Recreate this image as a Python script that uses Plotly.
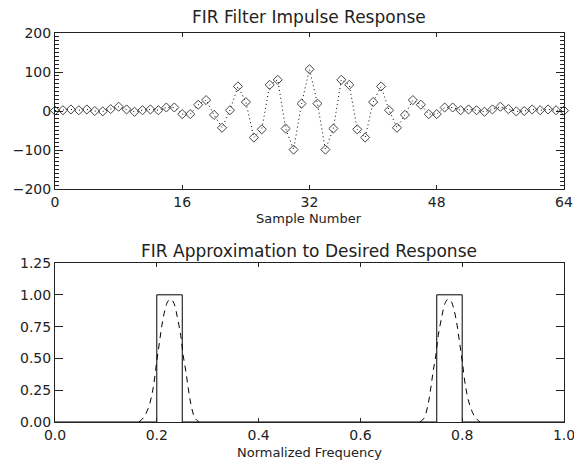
import plotly.graph_objects as go

# ---- Data: FIR impulse response (65 coefficients, samples 0..64) ----
sample_n = list(range(65))
coeff = [1, 2, 4, 2, 4, 0, -1, 5, 11, 4, -2, 2, 4, 2, 9, 9,
         -8, -8, 16, 28, -10, -43, 2, 63, 23, -68, -47, 67, 80, -45, -99, 19,
         107,
         19, -99, -45, 80, 67, -47, -68, 23, 63, 2, -43, -10, 28, 16, -8,
         -8, 9, 9, 2, 4, 2, -2, 4, 11, 5, -1, 0, 4, 2, 4, 2, 1]

# ---- Data: desired (ideal) band-pass response ----
desired_f = [0.0, 0.2, 0.2, 0.25, 0.25, 0.75, 0.75, 0.8, 0.8, 1.0]
desired_v = [0, 0, 1, 1, 0, 0, 1, 1, 0, 0]

# ---- Data: FIR approximation, two lobes ----
lobe1_f = [0.165, 0.175, 0.185, 0.193, 0.200, 0.205, 0.210, 0.216, 0.222,
           0.228, 0.234, 0.240, 0.247, 0.252, 0.257, 0.262, 0.267, 0.275, 0.283]
lobe1_v = [0.0, 0.04, 0.13, 0.27, 0.48, 0.62, 0.76, 0.88, 0.95,
           0.965, 0.93, 0.83, 0.68, 0.52, 0.40, 0.26, 0.14, 0.03, 0.0]
lobe2_f = [0.717, 0.725, 0.733, 0.738, 0.743, 0.748, 0.753, 0.760, 0.766,
           0.772, 0.778, 0.784, 0.790, 0.795, 0.800, 0.807, 0.815, 0.825, 0.835]
lobe2_v = [0.0, 0.03, 0.14, 0.26, 0.40, 0.52, 0.68, 0.83, 0.93,
           0.965, 0.95, 0.88, 0.76, 0.62, 0.48, 0.27, 0.13, 0.04, 0.0]

FONT = "DejaVu Sans"
INK = "#222222"

fig = go.Figure()

fig.add_trace(go.Scatter(
    x=sample_n, y=coeff, mode="lines+markers",
    line=dict(color="black", width=1, dash="1px,3px"),
    marker=dict(symbol="diamond-open", size=7, color="#444444",
                line=dict(width=1, color="#444444")),
    xaxis="x", yaxis="y", showlegend=False, cliponaxis=False))

fig.add_trace(go.Scatter(
    x=desired_f, y=desired_v, mode="lines",
    line=dict(color="black", width=1),
    xaxis="x2", yaxis="y2", showlegend=False))

for f, v in ((lobe1_f, lobe1_v), (lobe2_f, lobe2_v)):
    fig.add_trace(go.Scatter(
        x=f, y=v, mode="lines", line_shape="spline",
        line=dict(color="black", width=1, dash="6px,5px"),
        xaxis="x2", yaxis="y2", showlegend=False))

W, H = 574, 462
def px_x(p):
    return p / W
def px_y(p):
    return 1 - p / H

axis_common = dict(showline=True, linecolor=INK, linewidth=1, mirror="allticks",
                   ticks="inside", tickcolor=INK, showgrid=False, zeroline=False,
                   automargin=False, ticklabeloverflow="allow",
                   tickfont=dict(family=FONT, size=14, color=INK))

fig.update_layout(
    width=W, height=H,
    margin=dict(l=0, r=0, t=0, b=0, pad=0, autoexpand=False),
    paper_bgcolor="white", plot_bgcolor="white",
    xaxis=dict(domain=[px_x(55), px_x(564)], range=[0, 64], tickmode="array",
               tickvals=[0, 16, 32, 48, 64], ticklen=4, anchor="y", **axis_common),
    yaxis=dict(domain=[px_y(189), px_y(33)], range=[-200, 200], tickmode="array",
               tickvals=[-200, -100, 0, 100, 200], ticklen=8, anchor="x",
               minor=dict(dtick=10, ticklen=4, ticks="inside", tickcolor=INK),
               **axis_common),
    xaxis2=dict(domain=[px_x(55), px_x(564)], range=[0, 1], tickmode="array",
                tickvals=[0, 0.2, 0.4, 0.6, 0.8, 1.0],
                ticktext=["0.0", "0.2", "0.4", "0.6", "0.8", "1.0"],
                ticklen=4, anchor="y2", **axis_common),
    yaxis2=dict(domain=[px_y(422), px_y(263)], range=[0, 1.25], tickmode="array",
                tickvals=[0, 0.25, 0.5, 0.75, 1.0, 1.25],
                ticktext=["0.00", "0.25", "0.50", "0.75", "1.00", "1.25"],
                ticklen=8, anchor="x2", **axis_common),
    annotations=[
        dict(text="FIR Filter Impulse Response", x=px_x(309), y=px_y(17),
             xref="paper", yref="paper", showarrow=False, xanchor="center",
             yanchor="middle", font=dict(family=FONT, size=17, color=INK)),
        dict(text="Sample Number", x=px_x(309), y=px_y(218),
             xref="paper", yref="paper", showarrow=False, xanchor="center",
             yanchor="middle", font=dict(family=FONT, size=13, color=INK)),
        dict(text="FIR Approximation to Desired Response", x=px_x(309), y=px_y(251),
             xref="paper", yref="paper", showarrow=False, xanchor="center",
             yanchor="middle", font=dict(family=FONT, size=17, color=INK)),
        dict(text="Normalized Frequency", x=px_x(309), y=px_y(452),
             xref="paper", yref="paper", showarrow=False, xanchor="center",
             yanchor="middle", font=dict(family=FONT, size=13, color=INK)),
    ],
)

fig.write_html("out.html")
